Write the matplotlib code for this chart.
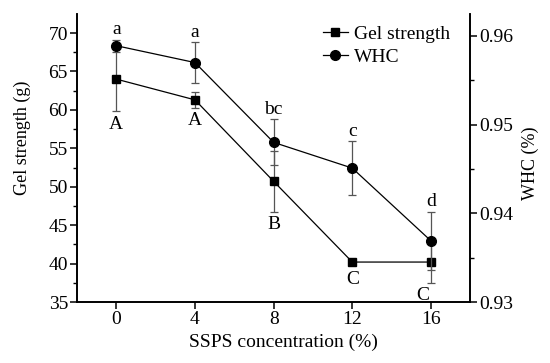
import numpy as np
import matplotlib.pyplot as plt
from matplotlib.lines import Line2D

# SSPS concentration (%)
conc = [0, 4, 8, 12, 16]

# gel strength (g), left axis
gel = [64.0, 61.3, 50.7, 40.2, 40.2]
gel_err = [4.2, 1.0, 4.0, 0.2, 2.7]
gel_letters = ['A', 'A', 'B', 'C', 'C']

# water holding capacity, right axis
whc = [0.9589, 0.9570, 0.9480, 0.9451, 0.9369]
whc_err = [0.0007, 0.0023, 0.0026, 0.0030, 0.0033]
whc_letters = ['a', 'a', 'bc', 'c', 'd']

plt.rcParams['font.family'] = ['Liberation Serif', 'DejaVu Serif']

fig, ax = plt.subplots(figsize=(5.5, 3.63), dpi=100)
fig.subplots_adjust(left=0.14, right=0.855, top=0.962, bottom=0.168)
ax2 = ax.twinx()

ecol = '#555555'
ax.errorbar(conc, gel, yerr=gel_err, color='black', marker='s', markersize=6,
            linewidth=0.9, ecolor=ecol, elinewidth=0.9, capsize=3, capthick=0.9)
ax2.errorbar(conc, whc, yerr=whc_err, color='black', marker='o', markersize=7,
             linewidth=0.9, ecolor=ecol, elinewidth=0.9, capsize=3, capthick=0.9)

ax.set_xlim(-2, 18)
ax.set_ylim(35, 72.5)
ax2.set_ylim(0.93, 0.9625)
ax.set_xticks(conc)
ax.set_yticks(np.arange(35, 71, 5))
ax.set_yticks(np.arange(37.5, 72, 5), minor=True)
ax2.set_yticks([0.93, 0.94, 0.95, 0.96])
ax2.set_yticks([0.935, 0.945, 0.955], minor=True)
ax2.set_yticklabels(['0.93', '0.94', '0.95', '0.96'])

for a in (ax, ax2):
    a.spines['top'].set_visible(False)
    for s in a.spines.values():
        s.set_linewidth(1.2)
    a.tick_params(which='major', length=5, width=1.1, labelsize=14, pad=1.5)
    a.tick_params(which='minor', length=3, width=1.0)

ax.set_xlabel('SSPS concentration (%)', fontsize=14)
ax.xaxis.set_label_coords(0.525, -0.11)
ax.set_ylabel('Gel strength (g)', fontsize=13)
ax.yaxis.set_label_coords(-0.117, 0.57)
ax2.set_ylabel('WHC (%)', fontsize=13)
ax2.yaxis.set_label_coords(1.13, 0.48)

# significance letters
for i, x in enumerate(conc):
    ax2.annotate(whc_letters[i], (x, whc[i] + whc_err[i]), xytext=(0, 1),
                 textcoords='offset points', ha='center', va='bottom', fontsize=14)
    dx = -6 if i == 4 else 0
    ax.annotate(gel_letters[i], (x, gel[i] - gel_err[i]), xytext=(dx, -3 if i != 3 else -5),
                textcoords='offset points', ha='center', va='top', fontsize=14)

handles = [Line2D([], [], color='black', marker='s', markersize=6, linewidth=0.9),
           Line2D([], [], color='black', marker='o', markersize=7, linewidth=0.9)]
ax.legend(handles, ['Gel strength', 'WHC'], loc='upper left', bbox_to_anchor=(0.58, 1.02),
          frameon=False, fontsize=14, handlelength=1.3, handletextpad=0.3, labelspacing=0.25)

plt.savefig('out.png', dpi=100)
